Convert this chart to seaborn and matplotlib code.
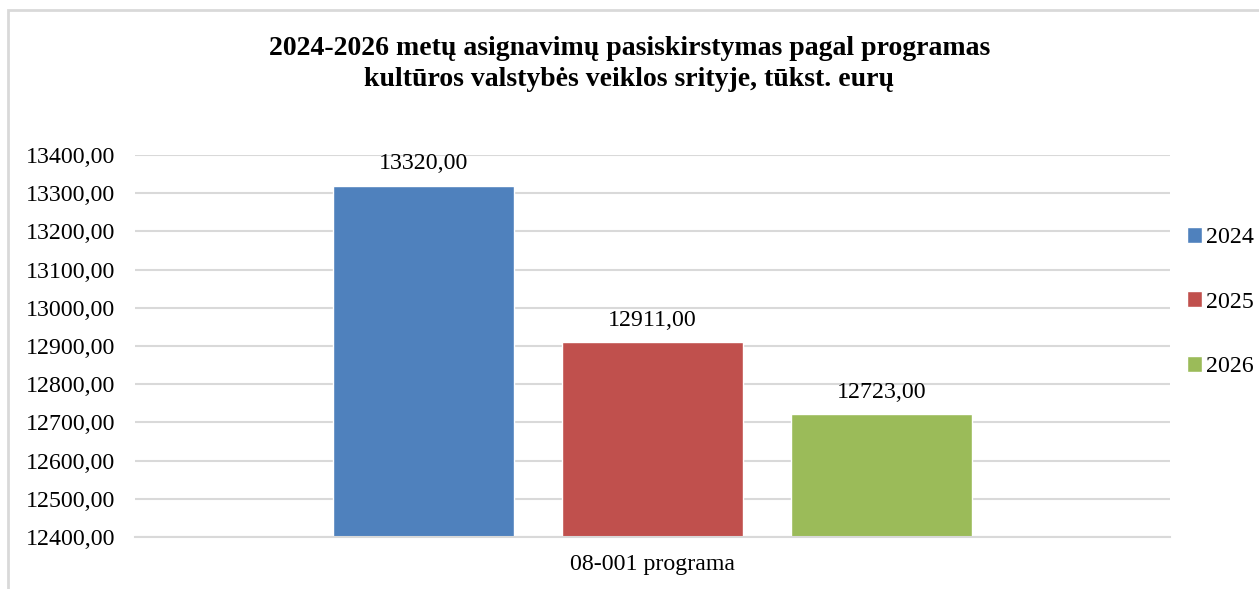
import matplotlib
matplotlib.use("Agg")
import matplotlib.pyplot as plt
import seaborn as sns
import pandas as pd
from matplotlib.patches import Rectangle
from matplotlib.ticker import FuncFormatter, MultipleLocator

categories = ["08-001 programa"]
years = ["2024", "2025", "2026"]
values = [13320.00, 12911.00, 12723.00]
colors = ["#4F81BD", "#C0504D", "#9BBB59"]
title = "2024-2026 metų asignavimų pasiskirstymas pagal programas\nkultūros valstybės veiklos srityje, tūkst. eurų"

df = pd.DataFrame({"programa": categories * len(years), "metai": years, "suma": values})

sns.set_style("white")
plt.rcParams["font.family"] = ["Liberation Serif", "DejaVu Serif"]
plt.rcParams["text.color"] = "black"
plt.rcParams["xtick.color"] = "black"
plt.rcParams["ytick.color"] = "black"

fig = plt.figure(figsize=(12.59, 5.89), dpi=100)
ax = fig.add_axes([135 / 1259, 1 - 537 / 589, (1170 - 135) / 1259, (537 - 155) / 589])

sns.barplot(data=df, x="programa", y="suma", hue="metai", palette=colors,
            width=0.8, gap=0.21, ax=ax, legend=True, saturation=1)

ax.set_ylim(12400, 13400)
ax.set_xlim(-0.6027, 0.6027)
ax.yaxis.set_major_locator(MultipleLocator(100))
ax.yaxis.set_major_formatter(FuncFormatter(lambda v, p: f"{v:.2f}".replace(".", ",")))
ax.grid(axis="y", color="#D9D9D9", linewidth=1.5, zorder=0)
ax.set_axisbelow(True)
for s in ["top", "right", "left"]:
    ax.spines[s].set_visible(False)
ax.spines["bottom"].set_color("#D9D9D9")
ax.spines["bottom"].set_linewidth(1.5)
ax.tick_params(axis="both", length=0, labelsize=17.2, colors="black")
ax.tick_params(axis="y", pad=14)
ax.tick_params(axis="x", pad=12)
ax.set_xlabel("")
ax.set_ylabel("")

for cont in ax.containers:
    ax.bar_label(cont, labels=[f"{v:.2f}".replace(".", ",") for v in cont.datavalues],
                 fontsize=17.2, padding=8, color="black")

handles, labels = ax.get_legend_handles_labels()
leg = ax.legend(handles, labels, loc="center left", bbox_to_anchor=(1.007, 0.615), frameon=False,
                fontsize=17.2, handlelength=0.65, handleheight=0.65, handletextpad=0.15,
                labelspacing=1.8, borderaxespad=0.0)
for t in leg.get_texts():
    t.set_color("black")

fig.text(0.5, 1 - 64 / 589, title, ha="center", va="center", fontsize=20,
         fontweight="bold", linespacing=1.3, color="black")

fig.patches.append(Rectangle((8 / 1259, -0.05), 1.1, 1 - 10 / 589 + 0.05,
                             transform=fig.transFigure, fill=False,
                             edgecolor="#D9D9D9", linewidth=2))

fig.savefig("out.png", dpi=100)
